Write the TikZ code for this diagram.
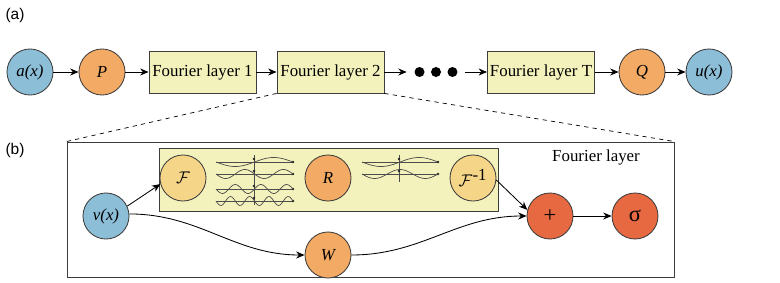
\documentclass[tikz,border=0pt]{standalone}
\usepackage{fontspec}
\setmainfont{Liberation Serif}
\newfontfamily\tagfont{Liberation Sans}
\usetikzlibrary{arrows.meta}

\definecolor{inblue}{RGB}{140,190,215}
\definecolor{liftorange}{RGB}{242,170,100}
\definecolor{layeryellow}{RGB}{244,242,188}
\definecolor{fftyellow}{RGB}{245,214,137}
\definecolor{actred}{RGB}{230,105,65}
\definecolor{edgegray}{RGB}{60,60,60}

\tikzset{
  blob/.style={circle,draw=edgegray,line width=0.6pt,minimum size=1.15cm,inner sep=0pt,
    font=\fontsize{12}{14}\selectfont\itshape},
  layer/.style={draw=edgegray,line width=0.6pt,fill=layeryellow,minimum width=2.675cm,
    minimum height=1.05cm,inner sep=0pt,font=\fontsize{12}{14}\selectfont},
  flow/.style={-{Stealth[length=6pt,width=5pt]},line width=0.6pt},
  wave/.style={gray!60!black,line width=0.5pt},
}

\begin{document}
\begin{tikzpicture}[x=0.025cm,y=-0.025cm]
  \useasboundingbox[fill=white] (0,0) rectangle (780,282);

  % (a) the whole operator
  \node[font=\tagfont\fontsize{11}{13}\selectfont] (taga) at (15,15) {(a)};
  \node[blob,fill=inblue] (ax) at (30,72) {a(x)};
  \node[blob,fill=liftorange] (P) at (102,72) {P};
  \node[layer] (L1) at (202.5,72) {Fourier layer 1};
  \node[layer] (L2) at (330.5,72) {Fourier layer 2};
  \node[minimum width=1.45cm,inner sep=0pt] (dots) at (436,72) {};
  \foreach \dx in {-16.5,0,16.5}
    \fill ([xshift=\dx*0.025cm]dots.center) circle (5);
  \node[layer] (LT) at (541,72) {Fourier layer T};
  \node[blob,fill=liftorange] (Q) at (642,72) {Q};
  \node[blob,fill=inblue] (ux) at (709,72) {u(x)};

  \draw[flow] (ax) -- (P);
  \draw[flow] (P) -- (L1);
  \draw[flow] (L1) -- (L2);
  \draw[flow] (L2) -- (dots);
  \draw[flow] (dots) -- (LT);
  \draw[flow] (LT) -- (Q);
  \draw[flow] (Q) -- (ux);

  % (b) inside one layer
  \node[font=\tagfont\fontsize{11}{13}\selectfont] (tagb) at (15,150) {(b)};
  \node[draw=edgegray,line width=0.6pt,minimum width=15.175cm,minimum height=3.375cm,
    inner sep=0pt] (block) at (370.5,209.5) {};
  \draw[dashed,line width=0.5pt] (L2.south west) -- (block.north west);
  \draw[dashed,line width=0.5pt] (L2.south east) -- (block.north east);
  \node[font=\fontsize{12}{14}\selectfont] (title) at (596,157) {Fourier layer};

  \node[draw=edgegray,line width=0.6pt,fill=layeryellow,minimum width=8.475cm,
    minimum height=1.575cm,inner sep=0pt] (spectral) at (328.5,179.5) {};

  % Fourier modes before and after R
  \draw[wave] (254,155) -- (254,205);
  \foreach \k/\yy in {1/162,2/174,3/189,4/201} {
    \draw[wave] (216,\yy) -- (293,\yy);
    \fill[gray!30!black] (293,\yy) circle (1.3);
    \fill[gray!30!black] (254,\yy-3) circle (1.3);
    \draw[wave] plot[domain=0:1,samples=60] ({216+77*\x},{\yy+4.5*sin(360*\k*\x)});
  }
  \draw[wave] (399,155) -- (399,182);
  \foreach \k/\yy in {1/162,1.5/174} {
    \draw[wave] (362,\yy) -- (438,\yy);
    \fill[gray!30!black] (438,\yy) circle (1.3);
    \fill[gray!30!black] (399,\yy-3) circle (1.3);
    \draw[wave] plot[domain=0:1,samples=60] ({362+76*\x},{\yy+4.5*sin(360*\k*\x)});
  }

  \node[blob,fill=fftyellow] (F) at (183,178) {$\mathcal{F}$};
  \node[blob,fill=liftorange] (R) at (328,178) {R};
  \node[blob,fill=fftyellow] (Finv) at (473,178) {$\mathcal{F}^{\textup{-1}}$};
  \node[blob,fill=inblue] (vx) at (106,216) {v(x)};
  \node[blob,fill=liftorange] (W) at (328,255) {W};
  \node[blob,fill=actred,font=\fontsize{16}{18}\selectfont] (plus) at (550,216) {+};
  \node[blob,fill=actred,font=\fontsize{16}{18}\selectfont] (act) at (635,216) {σ};

  \draw[flow] (vx.25) -- (F.195);
  \draw[flow] (vx.5) to[out=0,in=180] (W.west);
  \draw[flow] (W.east) to[out=0,in=180] (plus.west);
  \draw[flow] (Finv.-5) -- (plus.165);
  \draw[flow] (plus) -- (act);
\end{tikzpicture}
\end{document}
